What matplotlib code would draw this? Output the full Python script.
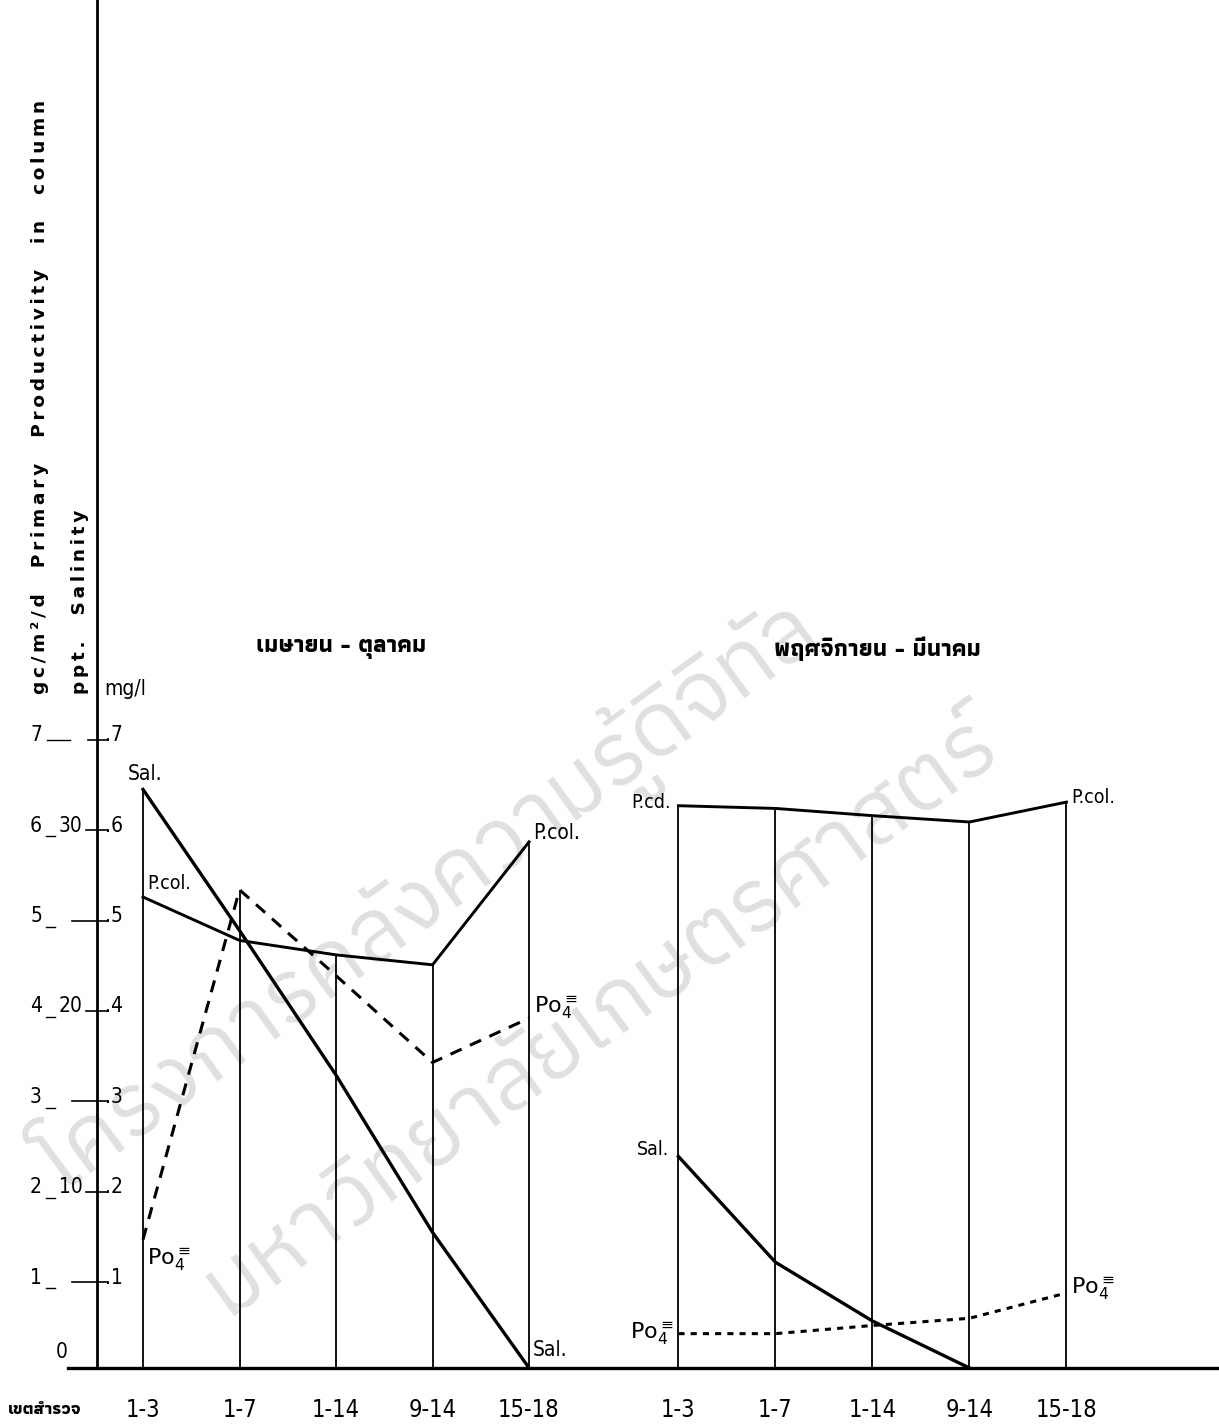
import matplotlib
matplotlib.use('Agg')
import matplotlib.pyplot as plt
import matplotlib.transforms as mtransforms
import numpy as np

# stations (เขตสำรวจ) and values
stations = ['1-3', '1-7', '1-14', '9-14', '15-18']

# เมษายน - ตุลาคม
pcol_apr = [5.21, 4.73, 4.57, 4.46, 5.82]       # gC/m2/d
sal_apr = [32.0, 24.2, 16.2, 7.5, 0.0]          # ppt
po4_apr = [0.142, 0.529, 0.434, 0.338, 0.387]   # mg/l

# พฤศจิกายน - มีนาคม
pcol_nov = [6.22, 6.19, 6.11, 6.04, 6.26]
sal_nov = [11.7, 5.85, 2.6, 0.0, np.nan]
po4_nov = [0.038, 0.038, 0.047, 0.055, 0.083]

prod_ticks = [1, 2, 3, 4, 5, 6, 7]
sal_ticks = [10, 20, 30]
mg_ticks = [.1, .2, .3, .4, .5, .6, .7]

LATIN = dict(family='DejaVu Sans', stretch='condensed')
THAI = ['Athiti', 'DejaVu Sans']

fig = plt.figure(figsize=(12.19, 14.25), dpi=100)
ax = fig.add_axes([0, 0, 1, 1])
# plot units: productivity as is, salinity / 5, mg/l * 10
ax.set_xlim(-143 / 97, (1219 - 143) / 97)
ax.set_ylim(-57 / 90.4, 1368 / 90.4)
ax.axis('off')

def px(x):
    return (x - 143) / 97

fx = mtransforms.blended_transform_factory(fig.transFigure, ax.transData)

def spaced(words):
    # letter-spaced words, wide gaps between words (as typed on the original)
    return '    '.join('\u2009'.join(w) for w in words)

# watermark
wm = ['IBM Plex Sans Thai', 'DejaVu Sans']
ax.text(px(430), 5.2, 'โครงการคลังความรู้ดิจิทัล', rotation=36, fontsize=64,
        family=wm, color='#e0e0e0', ha='center', va='center', zorder=0)
ax.text(px(600), 3.9, 'มหาวิทยาลัยเกษตรศาสตร์', rotation=36, fontsize=64,
        family=wm, color='#e0e0e0', ha='center', va='center', zorder=0)

# axes lines
ax.plot([px(97), px(97)], [0, ax.get_ylim()[1]], color='black', lw=2)
ax.plot([px(68), ax.get_xlim()[1]], [0, 0], color='black', lw=2.4)

# left tick labels for the three scales
for k, m in zip(prod_ticks, mg_ticks):
    ax.text(36 / 1219, k, str(k), transform=fx, fontsize=15, ha='center',
            va='center', **LATIN)
    if k == 7:
        ax.plot([47 / 1219, 70 / 1219], [k - 0.05, k - 0.05], transform=fx,
                color='black', lw=1)
    else:
        ax.plot([46 / 1219, 55 / 1219], [k - 0.12, k - 0.12], transform=fx,
                color='black', lw=1)
    s = k * 5
    if s in sal_ticks:
        ax.text(71 / 1219, k, str(s), transform=fx, fontsize=15, ha='center',
                va='center', **LATIN)
        x0 = 86
    else:
        x0 = 88 if k == 7 else 72
    ax.plot([x0 / 1219, 107 / 1219], [k - 0.05, k - 0.05], transform=fx,
            color='black', lw=1.2)
    ax.text(105 / 1219, k, ('%.1f' % m)[1:], transform=fx, fontsize=15,
            ha='left', va='center', **LATIN)
ax.text(62 / 1219, 0.18, '0', transform=fx, fontsize=15, ha='center',
        va='center', **LATIN)

# axis titles
ax.text(40 / 1219, 7.46, spaced(['gc/m²/d', 'Primary', 'Productivity', 'in', 'column']),
        transform=fx, rotation=90, family='DejaVu Sans', weight='bold',
        fontsize=13.3, ha='center', va='bottom')
ax.text(80 / 1219, 7.46, spaced(['ppt.', 'Salinity']), transform=fx,
        rotation=90, family='DejaVu Sans', weight='bold', fontsize=13.3,
        ha='center', va='bottom')
ax.text(104 / 1219, 7.51, 'mg/l', transform=fx, fontsize=15, ha='left',
        va='center', **LATIN)

po4_label = r'$\mathrm{Po}_4^{\equiv}$'

panels = [
    (np.arange(5) * 0.995, pcol_apr, sal_apr, po4_apr, (4, 3), 'เมษายน - ตุลาคม'),
    (5.52 + np.arange(5) * 1.0, pcol_nov, sal_nov, po4_nov, (2, 2), 'พฤศจิกายน - มีนาคม'),
]

for xs, pcol, sal, po4, dash, title in panels:
    p = np.array(pcol)
    s = np.array(sal) / 5.0
    q = np.array(po4) * 10.0
    tops = np.nanmax(np.vstack([p, s, q]), axis=0)
    ax.vlines(xs, 0, tops, color='black', lw=1.3)
    ax.plot(xs, p, color='black', lw=2.1)
    ax.plot(xs, s, color='black', lw=2.4)
    ax.plot(xs, q, color='black', lw=2.2, linestyle=(0, dash))
    ax.text(xs[2] + 0.05, 7.96, title, family=THAI, weight='bold', fontsize=17,
            ha='center', va='center')
    for x, lab in zip(xs, stations):
        ax.text(x, -0.46, lab, fontsize=17, ha='center', va='center', **LATIN)

# series labels, left panel
xa = panels[0][0]
ax.text(xa[0] + 0.02, sal_apr[0] / 5 + 0.06, 'Sal.', fontsize=15,
        ha='center', va='bottom', **LATIN)
ax.text(xa[0] + 0.04, pcol_apr[0] + 0.04, 'P.col.', fontsize=14,
        ha='left', va='bottom', **LATIN)
ax.text(xa[4] + 0.04, pcol_apr[4] + 0.1, 'P.col.', fontsize=15,
        ha='left', va='center', **LATIN)
ax.text(xa[4] + 0.04, 0.2, 'Sal.', fontsize=15, ha='left', va='center', **LATIN)
ax.text(xa[0] + 0.04, 1.2, po4_label, fontsize=16, ha='left', va='center')
ax.text(xa[4] + 0.05, po4_apr[4] * 10 + 0.12, po4_label, fontsize=16,
        ha='left', va='center')

# series labels, right panel
xb = panels[1][0]
ax.text(xb[0] - 0.08, pcol_nov[0] + 0.03, 'P.cd.', fontsize=14,
        ha='right', va='center', **LATIN)
ax.text(xb[4] + 0.05, pcol_nov[4] + 0.05, 'P.col.', fontsize=14,
        ha='left', va='center', **LATIN)
ax.text(xb[0] - 0.1, sal_nov[0] / 5 + 0.08, 'Sal.', fontsize=14,
        ha='right', va='center', **LATIN)
ax.text(xb[0] - 0.05, po4_nov[0] * 10, po4_label, fontsize=16, ha='right',
        va='center')
ax.text(xb[4] + 0.05, po4_nov[4] * 10 + 0.05, po4_label, fontsize=16,
        ha='left', va='center')

ax.text(8 / 1219, -0.46, 'เขตสำรวจ', transform=fx, family=THAI, weight='bold',
        fontsize=12.5, ha='left', va='center')

fig.savefig('out.png', dpi=100)
